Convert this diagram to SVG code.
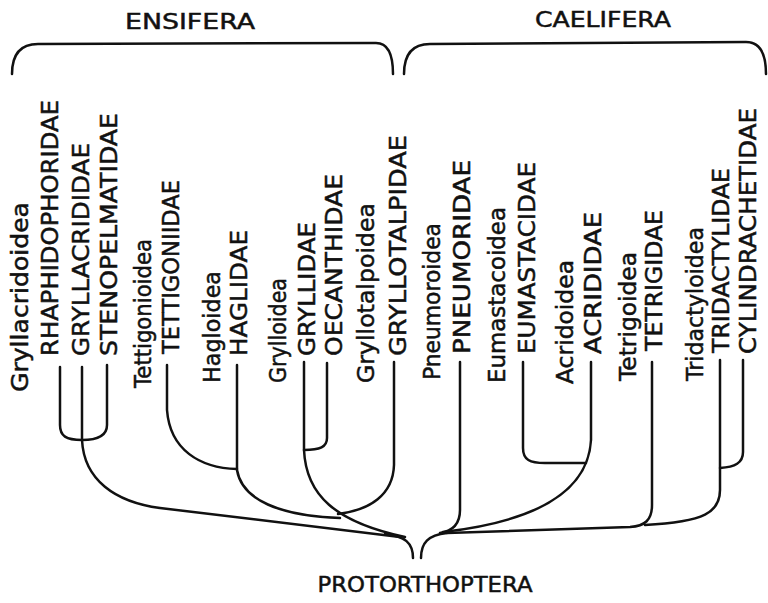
<svg xmlns="http://www.w3.org/2000/svg" width="768" height="603" viewBox="0 0 768 603">
<style>
.t{font-family:"DejaVu Sans","Liberation Sans",sans-serif;font-size:23px;fill:#111;stroke:#111;stroke-width:0.5}
.h{font-family:"DejaVu Sans","Liberation Sans",sans-serif;font-size:22px;fill:#111;stroke:#111;stroke-width:0.5}
.ln{fill:none;stroke:#111;stroke-width:2.5;stroke-linecap:round;stroke-linejoin:round}
</style>
<rect width="768" height="603" fill="#fff"/>
<g id="ensifera">
<text class="h" x="190" y="29" text-anchor="middle" textLength="130" lengthAdjust="spacingAndGlyphs">ENSIFERA</text>
<path class="ln" d="M12,74 C12,55 20,44 38,44 L376,43 C388,43 393,54 393,74"/>
</g>
<g id="caelifera">
<text class="h" x="603" y="27" text-anchor="middle" textLength="136" lengthAdjust="spacingAndGlyphs">CAELIFERA</text>
<path class="ln" d="M404,74 C404,55 412,44 430,44 L746,42 C760,42 766,54 766,74"/>
</g>
<g id="protorthoptera">
<text class="h" x="425" y="592" text-anchor="middle" textLength="215" lengthAdjust="spacingAndGlyphs">PROTORTHOPTERA</text>
</g>
<g id="gryllacridoidea"><text class="t" transform="translate(28,392) rotate(-90)" textLength="190" lengthAdjust="spacingAndGlyphs">Gryllacridoidea</text></g>
<g id="rhaphidophoridae"><text class="t" transform="translate(58,356) rotate(-90)" textLength="256" lengthAdjust="spacingAndGlyphs">RHAPHIDOPHORIDAE</text></g>
<g id="gryllacrididae"><text class="t" transform="translate(89,356) rotate(-90)" textLength="213" lengthAdjust="spacingAndGlyphs">GRYLLACRIDIDAE</text></g>
<g id="stenopelmatidae"><text class="t" transform="translate(117,356) rotate(-90)" textLength="243" lengthAdjust="spacingAndGlyphs">STENOPELMATIDAE</text></g>
<g id="tettigonioidea"><text class="t" transform="translate(151,388) rotate(-90)" textLength="149" lengthAdjust="spacingAndGlyphs">Tettigonioidea</text></g>
<g id="tettigoniidae"><text class="t" transform="translate(179,354) rotate(-90)" textLength="174" lengthAdjust="spacingAndGlyphs">TETTIGONIIDAE</text></g>
<g id="hagloidea"><text class="t" transform="translate(220,383) rotate(-90)" textLength="112" lengthAdjust="spacingAndGlyphs">Hagloidea</text></g>
<g id="haglidae"><text class="t" transform="translate(247,356) rotate(-90)" textLength="126" lengthAdjust="spacingAndGlyphs">HAGLIDAE</text></g>
<g id="grylloidea"><text class="t" transform="translate(286,383) rotate(-90)" textLength="105" lengthAdjust="spacingAndGlyphs">Grylloidea</text></g>
<g id="gryllidae"><text class="t" transform="translate(315,356) rotate(-90)" textLength="134" lengthAdjust="spacingAndGlyphs">GRYLLIDAE</text></g>
<g id="oecanthidae"><text class="t" transform="translate(342,356) rotate(-90)" textLength="182" lengthAdjust="spacingAndGlyphs">OECANTHIDAE</text></g>
<g id="gryllotalpoidea"><text class="t" transform="translate(374,383) rotate(-90)" textLength="180" lengthAdjust="spacingAndGlyphs">Gryllotalpoidea</text></g>
<g id="gryllotalpidae"><text class="t" transform="translate(406,356) rotate(-90)" textLength="221" lengthAdjust="spacingAndGlyphs">GRYLLOTALPIDAE</text></g>
<g id="pneumoroidea"><text class="t" transform="translate(440,380) rotate(-90)" textLength="157" lengthAdjust="spacingAndGlyphs">Pneumoroidea</text></g>
<g id="pneumoridae"><text class="t" transform="translate(470,354) rotate(-90)" textLength="194" lengthAdjust="spacingAndGlyphs">PNEUMORIDAE</text></g>
<g id="eumastacoidea"><text class="t" transform="translate(505,383) rotate(-90)" textLength="176" lengthAdjust="spacingAndGlyphs">Eumastacoidea</text></g>
<g id="eumastacidae"><text class="t" transform="translate(535,354) rotate(-90)" textLength="192" lengthAdjust="spacingAndGlyphs">EUMASTACIDAE</text></g>
<g id="acridoidea"><text class="t" transform="translate(573,384) rotate(-90)" textLength="124" lengthAdjust="spacingAndGlyphs">Acridoidea</text></g>
<g id="acrididae"><text class="t" transform="translate(601,354) rotate(-90)" textLength="142" lengthAdjust="spacingAndGlyphs">ACRIDIDAE</text></g>
<g id="tetrigoidea"><text class="t" transform="translate(636,381) rotate(-90)" textLength="129" lengthAdjust="spacingAndGlyphs">Tetrigoidea</text></g>
<g id="tetrigidae"><text class="t" transform="translate(662,351) rotate(-90)" textLength="141" lengthAdjust="spacingAndGlyphs">TETRIGIDAE</text></g>
<g id="tridactyloidea"><text class="t" transform="translate(703,381) rotate(-90)" textLength="154" lengthAdjust="spacingAndGlyphs">Tridactyloidea</text></g>
<g id="tridactylidae"><text class="t" transform="translate(729,353) rotate(-90)" textLength="185" lengthAdjust="spacingAndGlyphs">TRIDACTYLIDAE</text></g>
<g id="cylindrachetidae"><text class="t" transform="translate(756,354) rotate(-90)" textLength="246" lengthAdjust="spacingAndGlyphs">CYLINDRACHETIDAE</text></g>
<g id="connectors">
<path class="ln" d="M60,367 L60,425 C60,436 66,440 82,440 C98,440 107,436 107,425 L107,365"/>
<path class="ln" d="M82,367 L82,440 C84,480 115,502 160,508 L400,537"/>
<path class="ln" d="M167,365 L167,410 C170,450 200,468 237,469"/>
<path class="ln" d="M237,365 L237,470 C242,500 280,516 340,518"/>
<path class="ln" d="M304,362 L304,450 C306,495 335,522 405,537"/>
<path class="ln" d="M327,363 L327,438 C327,447 320,450 304,450"/>
<path class="ln" d="M394,362 L394,465 C393,495 370,510 338,514"/>
<path class="ln" d="M385,534 C405,536 413,543 413,558"/>
<path class="ln" d="M421,558 C421,543 428,535 447,533"/>
<path class="ln" d="M460,362 L460,510 C460,524 453,531 440,533"/>
<path class="ln" d="M591,362 L591,440 C588,495 530,522 443,532"/>
<path class="ln" d="M523,362 L523,448 C523,460 530,463 545,463 L586,463"/>
<path class="ln" d="M652,362 L652,505 C652,520 645,526 630,527 L447,533"/>
<path class="ln" d="M720,360 L720,490 C720,512 705,522 645,525"/>
<path class="ln" d="M743,360 L743,452 C743,463 735,467 720,468"/>
</g>
</svg>
